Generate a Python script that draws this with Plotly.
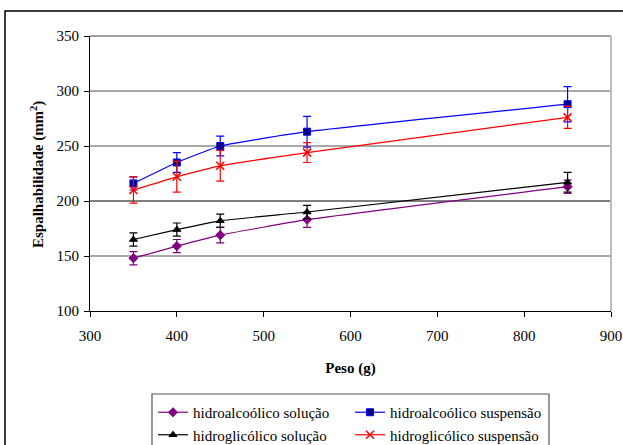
import plotly.graph_objects as go

peso = [350, 400, 450, 550, 850]

ha_sol = [148, 159, 169, 183, 213]
ha_sol_err = [6, 6, 7, 7, 6]
ha_susp = [216, 235, 250, 263, 288]
ha_susp_err = [6, 9, 9, 14, 16]
hg_sol = [165, 174, 182, 190, 217]
hg_sol_err = [6, 6, 6, 6, 9]
hg_susp = [210, 222, 232, 244, 276]
hg_susp_err = [12, 14, 14, 9, 10]

x_ticks = [300, 400, 500, 600, 700, 800, 900]
y_ticks = [100, 150, 200, 250, 300, 350]

FONT = "serif"

series = [
    ("hidroalcoólico solução", ha_sol, ha_sol_err, "#800080", "diamond", "#800080", "legend"),
    ("hidroalcoólico suspensão", ha_susp, ha_susp_err, "#0000FF", "square", "#000080", "legend2"),
    ("hidroglicólico solução", hg_sol, hg_sol_err, "#000000", "triangle-up", "#000000", "legend"),
    ("hidroglicólico suspensão", hg_susp, hg_susp_err, "#FF0000", "x-thin", "#FF0000", "legend2"),
]

fig = go.Figure()
for name, vals, err, col, sym, mcol, leg in series:
    fig.add_trace(go.Scatter(
        x=peso, y=vals, name=name, mode="lines+markers",
        line=dict(color=col, width=1.2, shape="spline", smoothing=0.4),
        marker=dict(symbol=sym, size=7 if sym != "x-thin" else 8, color=mcol,
                    line=dict(color=col, width=1.5 if sym == "x-thin" else 1)),
        error_y=dict(type="data", array=err, visible=True, color=col,
                     thickness=1.2, width=4),
        legend=leg,
    ))

W, H = 623, 445
L, T = 90, 36
R = W - 611
B = H - 311
pw, ph = W - L - R, H - T - B
def px_x(p):
    return (p - L) / pw
def px_y(p):
    return (H - B - p) / ph
def cx(p):
    return p / W
def cy(p):
    return 1 - p / H

grid_colors = {150: "#555555", 200: "#000000", 250: "#555555", 300: "#555555"}
shapes = []
for v, c in grid_colors.items():
    shapes.append(dict(type="line", xref="paper", yref="y", x0=0, x1=1, y0=v, y1=v,
                       line=dict(color=c, width=1.2), layer="below"))
shapes.append(dict(type="line", xref="paper", yref="paper", x0=0, x1=1, y0=1, y1=1,
                   line=dict(color="#808080", width=1.5)))
shapes.append(dict(type="line", xref="paper", yref="paper", x0=1, x1=1, y0=0, y1=1,
                   line=dict(color="#BBBBBB", width=2)))
shapes.append(dict(type="rect", xref="paper", yref="paper",
                   x0=px_x(5), x1=px_x(640), y0=px_y(11), y1=px_y(470),
                   line=dict(color="#000000", width=1.5)))
shapes.append(dict(type="rect", xref="paper", yref="paper",
                   x0=px_x(152), x1=px_x(549), y0=px_y(394), y1=px_y(470),
                   line=dict(color="#555555", width=1.2)))

annotations = [
    dict(text="<b>Espalhabilidade (mm<sup>2</sup>)</b>", textangle=-90,
         xref="paper", yref="paper", x=px_x(38), y=px_y(175),
         xanchor="center", yanchor="middle", showarrow=False,
         font=dict(family=FONT, size=15, color="black")),
]

fig.update_layout(
    width=W, height=H,
    margin=dict(l=L, r=R, t=T, b=B, autoexpand=False),
    paper_bgcolor="white", plot_bgcolor="white",
    font=dict(family=FONT, size=15, color="black"),
    shapes=shapes,
    annotations=annotations,
    showlegend=True,
    legend=dict(x=cx(153), y=cy(396), xref="container", yref="container",
                xanchor="left", yanchor="top",
                orientation="v", bgcolor="rgba(0,0,0,0)", tracegroupgap=0,
                font=dict(family=FONT, size=15), itemwidth=30),
    legend2=dict(x=cx(350), y=cy(396), xref="container", yref="container",
                 xanchor="left", yanchor="top",
                 orientation="v", bgcolor="rgba(0,0,0,0)", tracegroupgap=0,
                 font=dict(family=FONT, size=15), itemwidth=30),
    xaxis=dict(range=[300, 900], tickvals=x_ticks, showgrid=False, zeroline=False,
               showline=True, linecolor="black", linewidth=1.2,
               ticks="outside", ticklen=5, tickcolor="black",
               ticklabelstandoff=6,
               tickfont=dict(family=FONT, size=15),
               title=dict(text="<b>Peso (g)</b>", font=dict(family=FONT, size=15), standoff=19)),
    yaxis=dict(range=[100, 350], tickvals=y_ticks, showgrid=False, zeroline=False,
               showline=True, linecolor="black", linewidth=1.2,
               ticks="outside", ticklen=5, tickcolor="black",
               ticklabelstandoff=2,
               tickfont=dict(family=FONT, size=15)),
)

fig.write_html("out.html",
               config={"displayModeBar": False},
               post_script="document.body.style.margin='0';document.body.style.overflow='hidden';")
